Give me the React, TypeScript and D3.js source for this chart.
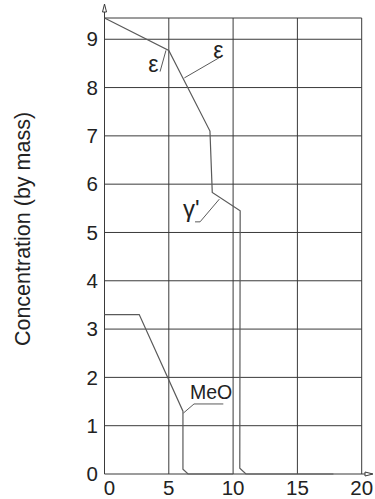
import React from "react";
import * as d3 from "d3";

const xTicks = [0, 5, 10, 15, 20];
const yTicks = [0, 1, 2, 3, 4, 5, 6, 7, 8, 9];
const yTop = 9.44;
const xMax = 20;
const yLabel = "Concentration (by mass)";

// ε / γ' curve
const epsX = [0, 5, 8.2, 8.38, 10.55, 10.52, 11.0, 17.8];
const epsY = [9.44, 8.77, 7.1, 5.83, 5.45, 0.12, 0, 0];
// MeO curve
const meoX = [0, 2.7, 6.1, 6.1, 6.5, 10];
const meoY = [3.3, 3.3, 1.3, 0.1, 0, 0];

const labelTexts = ["ε", "ε", "γ'", "MeO"];
const labelAt = [
  [3.8, 8.32],
  [8.86, 8.62],
  [7.4, 5.33],
  [6.65, 1.56],
];
const labelAnchor = ["middle", "middle", "end", "start"];
const labelSize = [23, 23, 24, 19.5];
const leaders = [
  [[4.32, 8.33], [4.78, 8.77]],
  [[9.06, 8.64], [6.21, 8.2]],
  [[7.04, 5.22], [7.43, 5.22], [8.93, 5.69]],
  [[9.24, 1.45], [6.96, 1.45], [6.13, 1.26]],
];

export default function App() {
  const W = 375, H = 499;
  const x = d3.scaleLinear().domain([0, xMax]).range([104.5, 361.7]);
  const y = d3.scaleLinear().domain([0, yTop]).range([474, 18]);
  const line = d3.line<number[]>().x((d) => x(d[0])).y((d) => y(d[1]));
  const eps = epsX.map((v, i) => [v, epsY[i]]);
  const meo = meoX.map((v, i) => [v, meoY[i]]);
  const font = "'Liberation Sans', Arial, sans-serif";
  const grid = "#3a3a3a";
  const curve = "#5a5a5a";
  return (
    <svg width={W} height={H} style={{ position: "absolute", left: 0, top: 0, background: "#fff" }}>
      {/* grid */}
      {yTicks.filter((t) => t > 0).map((t) => (
        <line key={"h" + t} x1={x(0)} x2={x(xMax)} y1={y(t)} y2={y(t)} stroke={grid} strokeWidth={1} />
      ))}
      <line x1={x(0)} x2={x(xMax)} y1={y(yTop)} y2={y(yTop)} stroke={grid} strokeWidth={1} />
      {xTicks.filter((t) => t > 0).map((t) => (
        <line key={"v" + t} x1={x(t)} x2={x(t)} y1={y(0)} y2={y(yTop)} stroke={grid} strokeWidth={1} />
      ))}
      {/* axes */}
      <line x1={x(0)} x2={x(0)} y1={y(0)} y2={5} stroke={grid} strokeWidth={1} />
      <path d={`M${x(0) - 2},12 L${x(0)},4 L${x(0) + 2},12 Z`} fill="#fff" stroke={grid} strokeWidth={1} />
      <line x1={x(0)} x2={372} y1={y(0)} y2={y(0)} stroke={grid} strokeWidth={1.2} />
      <path d={`M365,${y(0) - 2} L373,${y(0)} L365,${y(0) + 2} Z`} fill="#fff" stroke={grid} strokeWidth={1} />
      {/* curves */}
      <path d={line(eps) || ""} fill="none" stroke={curve} strokeWidth={1.2} />
      <path d={line(meo) || ""} fill="none" stroke={curve} strokeWidth={1.2} />
      {/* leaders */}
      {leaders.map((pts, i) => (
        <path key={"l" + i} d={line(pts) || ""} fill="none" stroke={curve} strokeWidth={1} />
      ))}
      {labelTexts.map((t, i) => (
        <text key={"t" + i} x={x(labelAt[i][0])} y={y(labelAt[i][1])} textAnchor={labelAnchor[i]}
          fontFamily={font} fontSize={labelSize[i]} fill="#222">{t}</text>
      ))}
      {/* tick labels */}
      {yTicks.map((t) => (
        <text key={"yt" + t} x={98} y={y(t)} dy="0.35em" textAnchor="end" fontFamily={font} fontSize={20.5} fill="#222">{t}</text>
      ))}
      {xTicks.map((t) => (
        <text key={"xt" + t} x={x(t) + (t === 0 ? 5 : 0)} y={495} textAnchor="middle" fontFamily={font} fontSize={20.5} fill="#222">{t}</text>
      ))}
      <text transform={`translate(30,229) rotate(-90)`} textAnchor="middle" fontFamily={font} fontSize={21.5} fill="#222">{yLabel}</text>
    </svg>
  );
}
